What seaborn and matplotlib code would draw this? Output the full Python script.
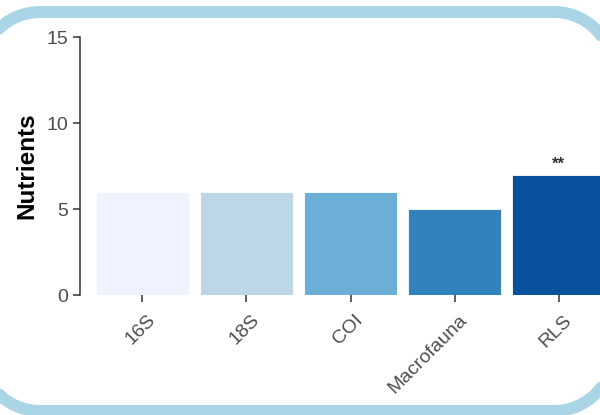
import matplotlib
matplotlib.use("Agg")
import matplotlib.pyplot as plt
from matplotlib.lines import Line2D
import numpy as np
import seaborn as sns
import pandas as pd

# === DATA ===
groups = ["16S", "18S", "COI", "Macrofauna", "RLS"]
nutrients = [6, 6, 6, 5, 7]
signif = ["", "", "", "", "**"]
bar_colors = ["#EFF3FF", "#BDD7E7", "#6BAED6", "#3182BD", "#08519C"]

df = pd.DataFrame({"group": groups, "value": nutrients})

sns.set_style("white")
plt.rcParams["font.family"] = ["Liberation Sans", "DejaVu Sans"]

W, H = 600, 415
fig = plt.figure(figsize=(W / 100, H / 100), dpi=100)


# rounded light-blue frame round the panel, in pixels (y down), partly off canvas
def rounded_frame(x0, y0, x1, y1, r, n=40):
    xs, ys = [], []
    corners = [(x1 - r, y0 + r, -90, 0), (x1 - r, y1 - r, 0, 90),
               (x0 + r, y1 - r, 90, 180), (x0 + r, y0 + r, 180, 270)]
    for cx, cy, a0, a1 in corners:
        t = np.radians(np.linspace(a0, a1, n))
        xs.extend(cx + r * np.cos(t))
        ys.extend(cy + r * np.sin(t))
    xs.append(xs[0])
    ys.append(ys[0])
    return np.array(xs) / W, 1 - np.array(ys) / H


fx, fy = rounded_frame(-19, 12, 613, 411, 59)
fig.add_artist(Line2D(fx, fy, transform=fig.transFigure, color="#A9D5E6",
                      linewidth=8.6, solid_joinstyle="round"))

ax = fig.add_axes([80 / W, 1 - 295 / H, 541 / W, 258 / H])
sns.barplot(data=df, x="group", y="value", hue="group", palette=bar_colors,
            width=0.9, legend=False, ax=ax, edgecolor="#ffffff", linewidth=0.6,
            saturation=1)

ax.set_xlim(-0.6, 4.6)
ax.set_ylim(0, 15)
ax.set_yticks([0, 5, 10, 15])

for i, (v, s) in enumerate(zip(nutrients, signif)):
    if s:
        ax.text(i, v + 0.15, s, ha="center", va="bottom", fontsize=12,
                fontweight="bold", color="#333333")

sns.despine(ax=ax, top=True, right=True, bottom=True)
ax.spines["left"].set_color("#333333")
ax.spines["left"].set_linewidth(1.1)
ax.tick_params(axis="both", length=5, width=1.1, color="#333333",
               labelsize=14, labelcolor="#4D4D4D", left=True, bottom=True)
ax.tick_params(axis="x", pad=7)
plt.setp(ax.get_xticklabels(), rotation=45, ha="right", va="top",
         rotation_mode="anchor")
from matplotlib.transforms import ScaledTranslation
shift = ScaledTranslation(4 / 100, 0, fig.dpi_scale_trans)
for lbl in ax.get_xticklabels():
    lbl.set_transform(lbl.get_transform() + shift)

ax.set_xlabel("")
ax.set_ylabel("Nutrients", fontsize=17.5, fontweight="bold", color="black",
              labelpad=6)

fig.savefig("out.png", dpi=100)
